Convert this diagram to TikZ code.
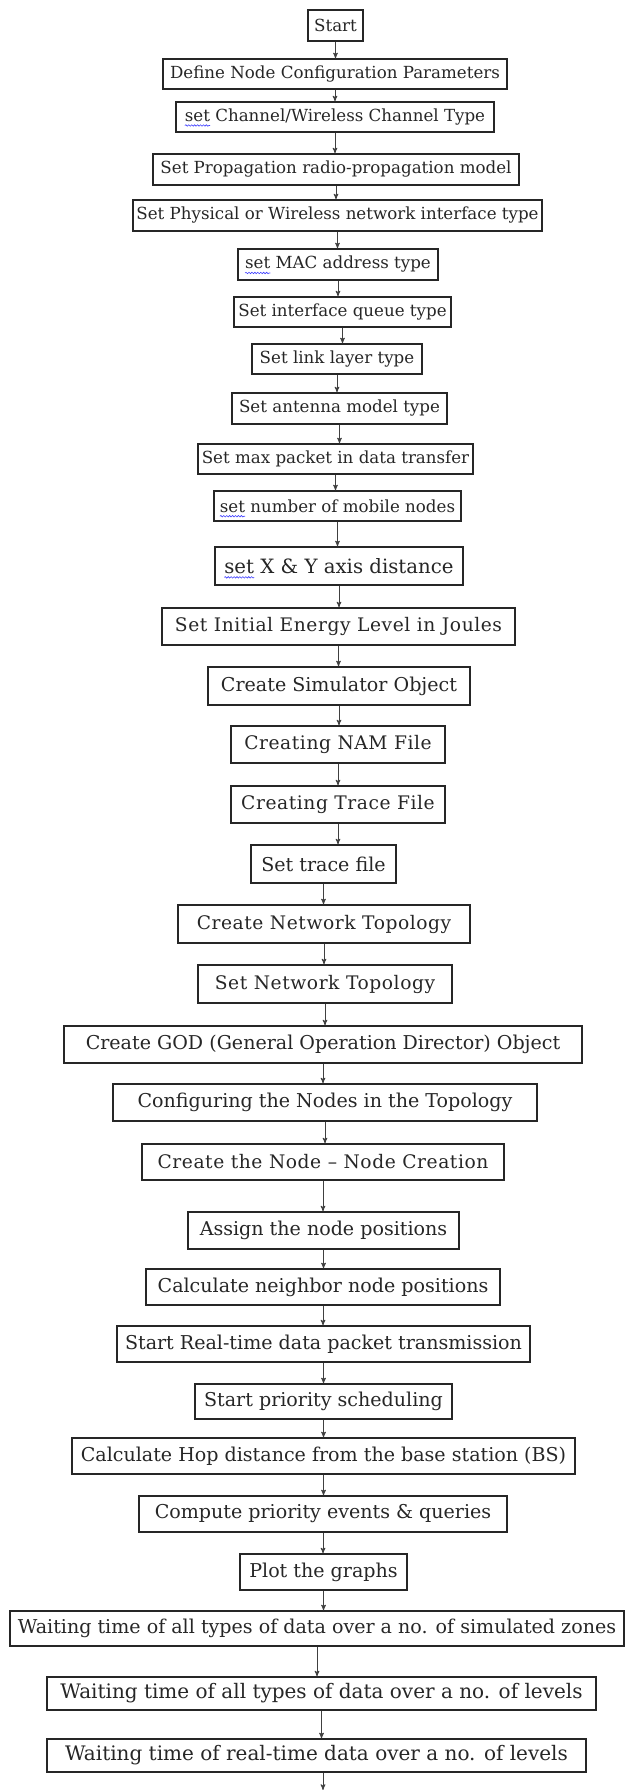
\documentclass[tikz,border=0pt]{standalone}
\usepackage{fontspec}
\setmainfont{DejaVu Serif}
\newfontfamily\widefam[LetterSpace=3]{DejaVu Serif}
\usepackage{tikz}
\usetikzlibrary{arrows,decorations.pathmorphing}

% blue spell-check squiggle under a word
\newlength\wavelen
\newcommand\spellwave[1]{\settowidth\wavelen{#1}\leavevmode\rlap{\tikz[overlay, baseline=0pt]\draw[-, blue!75!white, line width=0.45pt, decorate, decoration={snake, amplitude=0.55pt, segment length=2.2pt}] (0pt,-3pt) -- (\wavelen,-3pt);}#1}

\newcommand\smallf{\fontsize{12.5}{14}\selectfont}
\newcommand\largef{\fontsize{14.3}{16}\selectfont}
\newcommand\widef{\widefam\fontsize{14}{16}\selectfont}
\newcommand\hugef{\fontsize{15}{17}\selectfont}

\begin{document}
\begin{tikzpicture}[x=0.75pt, y=-0.75pt, ->, >=stealth', semithick]
\tikzstyle{box}=[draw=black!85, line width=0.9pt, inner sep=0pt, text=black!85, font=\smallf]
\tikzstyle{big}=[font=\largef]
\tikzstyle{wide}=[font=\widef]
\tikzstyle{huge}=[font=\hugef]
\tikzstyle{sz}=[minimum width=#1*0.75pt]
\tikzstyle{ht}=[minimum height=#1*0.75pt]
\tikzstyle{arr}=[draw=black!75, line width=0.6pt, shorten >=0pt]
\useasboundingbox (0,0) rectangle (625,1790);

% configuration steps
\node[box, sz=55, ht=31] (start) at (335.5,25.5) {Start};
\node[box, sz=344, ht=30] (define) at (335,74) {Define Node Configuration Parameters};
\node[box, sz=318, ht=30] (chan) at (335,117) {\spellwave{set} Channel/Wireless Channel Type};
\node[box, sz=366, ht=31] (prop) at (336,169.5) {Set Propagation radio-propagation model};
\node[box, sz=409, ht=31] (phy) at (337.5,215.5) {Set Physical or Wireless network interface type};
\node[box, sz=200, ht=31] (mac) at (338,264.5) {\spellwave{set} MAC address type};
\node[box, sz=217, ht=30] (ifq) at (342.5,312) {Set interface queue type};
\node[box, sz=170, ht=30] (ll) at (337,359) {Set link layer type};
\node[box, sz=215, ht=31] (ant) at (339.5,408.5) {Set antenna model type};
\node[box, sz=275, ht=30] (maxpkt) at (335.5,459) {Set max packet in data transfer};
\node[box, sz=247, ht=30] (nn) at (337.5,506) {\spellwave{set} number of mobile nodes};
\node[box, font=\fontsize{14.8}{17}\selectfont, sz=248, ht=38] (xy) at (339,566) {\spellwave{set} X \& Y axis distance};
\node[box, wide, sz=353, ht=37] (energy) at (338.5,626.5) {Set Initial Energy Level in Joules};

% simulator and files
\node[box, big, sz=262, ht=38] (sim) at (339,686) {Create Simulator Object};
\node[box, wide, sz=214, ht=37] (nam) at (338,744.5) {Creating NAM File};
\node[box, wide, sz=214, ht=37] (trace) at (338,804.5) {Creating Trace File};
\node[box, big, sz=145, ht=38] (settr) at (323.5,864) {Set trace file};

% topology and nodes
\node[box, wide, sz=292, ht=38] (cntopo) at (324,924) {Create Network Topology};
\node[box, wide, sz=254, ht=38] (sntopo) at (325,984) {Set Network Topology};
\node[box, big, sz=518, ht=37] (god) at (323,1044.5) {Create GOD (General Operation Director) Object};
\node[box, big, sz=424, ht=37] (conf) at (325,1102.5) {Configuring the Nodes in the Topology};
\node[box, wide, sz=362, ht=36] (create) at (323,1162) {Create the Node – Node Creation};
\node[box, big, sz=271, ht=37] (assign) at (323.5,1230.5) {Assign the node positions};
\node[box, big, sz=354, ht=36] (neigh) at (323,1287) {Calculate neighbor node positions};

% transmission and results
\node[box, big, sz=413, ht=36] (rt) at (323.5,1344) {Start Real-time data packet transmission};
\node[box, big, sz=257, ht=35] (prio) at (323.5,1401.5) {Start priority scheduling};
\node[box, big, sz=503, ht=36] (hop) at (323.5,1456) {Calculate Hop distance from the base station (BS)};
\node[box, big, sz=368, ht=36] (comp) at (323,1514) {Compute priority events \& queries};
\node[box, big, sz=167, ht=36] (plot) at (323.5,1572) {Plot the graphs};
\node[box, font=\fontsize{14.3}{17}\selectfont, sz=614, ht=35] (wzone) at (317,1628.5) {Waiting time of all types of data over a no. of simulated zones};
\node[box, huge, sz=549, ht=33] (wlev) at (321.5,1693.5) {Waiting time of all types of data over a no. of levels};
\node[box, huge, sz=539, ht=33] (wrt) at (316.5,1755.5) {Waiting time of real-time data over a no. of levels};
\coordinate (end) at (323,1790);

\foreach \a/\b in {start/define, define/chan, chan/prop, prop/phy, phy/mac, mac/ifq,
  ifq/ll, ll/ant, ant/maxpkt, maxpkt/nn, nn/xy, xy/energy, energy/sim, sim/nam,
  nam/trace, trace/settr, settr/cntopo, cntopo/sntopo, sntopo/god, god/conf,
  conf/create, create/assign, assign/neigh, neigh/rt, rt/prio, prio/hop,
  hop/comp, comp/plot, plot/wzone, wzone/wlev, wlev/wrt}
  \draw[arr] (\a.south) -- (\a.south |- \b.north);
\draw[arr] (wrt.south -| end) -- (end);
\end{tikzpicture}
\end{document}
